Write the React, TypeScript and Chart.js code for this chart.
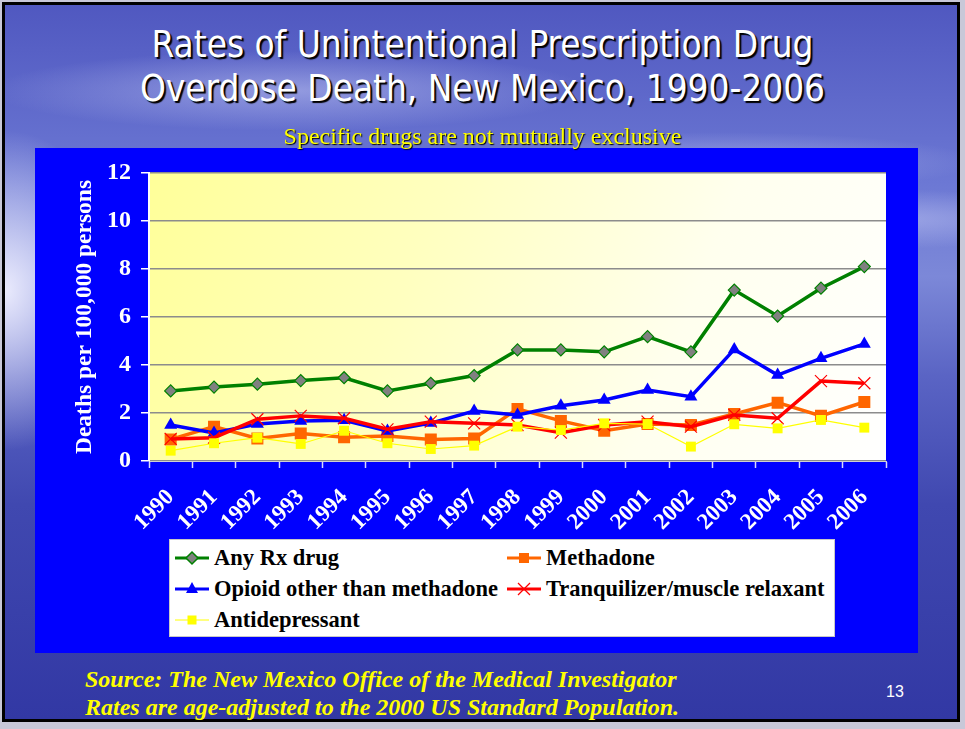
import React, { useEffect, useRef } from "react";
import { Chart, registerables } from "chart.js";

Chart.register(...registerables);

const years = ["1990","1991","1992","1993","1994","1995","1996","1997","1998","1999","2000","2001","2002","2003","2004","2005","2006"];
const anyRx = [2.92, 3.08, 3.2, 3.35, 3.47, 2.92, 3.24, 3.56, 4.63, 4.63, 4.55, 5.18, 4.55, 7.12, 6.04, 7.2, 8.1];
const methadone = [0.9, 1.43, 0.94, 1.15, 0.99, 1.04, 0.9, 0.94, 2.17, 1.67, 1.26, 1.54, 1.5, 1.96, 2.43, 1.88, 2.46];
const opioid = [1.5, 1.17, 1.54, 1.67, 1.7, 1.25, 1.58, 2.08, 1.92, 2.3, 2.54, 2.96, 2.68, 4.65, 3.58, 4.28, 4.88];
const tranq = [0.92, 0.97, 1.74, 1.88, 1.78, 1.32, 1.64, 1.57, 1.5, 1.18, 1.5, 1.64, 1.43, 1.92, 1.78, 3.33, 3.24];
const antidep = [0.43, 0.74, 0.97, 0.71, 1.26, 0.74, 0.5, 0.64, 1.43, 1.29, 1.57, 1.54, 0.6, 1.53, 1.36, 1.71, 1.39];
const yTicks = [0, 2, 4, 6, 8, 10, 12];

const serif = '"Liberation Serif", "Times New Roman", serif';

const plotBg = {
  id: "plotBg",
  beforeDraw(chart: any) {
    const { ctx, chartArea } = chart;
    if (!chartArea) return;
    const { left, top, right, bottom } = chartArea;
    const g = ctx.createLinearGradient(left, top, right, bottom);
    g.addColorStop(0, "#ffff99");
    g.addColorStop(0.35, "#ffffbf");
    g.addColorStop(0.7, "#ffffee");
    g.addColorStop(1, "#ffffff");
    ctx.save();
    ctx.fillStyle = g;
    ctx.fillRect(left, top, right - left, bottom - top);
    ctx.restore();
  },
};

function LegendIcon({ kind }: { kind: string }) {
  const w = 34, h = 16, cy = 8, cx = 17;
  let line = "#000", lw = 3, marker: any = null;
  if (kind === "any") {
    line = "#008000";
    marker = <polygon points={`${cx},${cy - 6} ${cx + 6},${cy} ${cx},${cy + 6} ${cx - 6},${cy}`} fill="#808080" stroke="#008000" strokeWidth={1.5} />;
  } else if (kind === "meth") {
    line = "#ff6600";
    marker = <rect x={cx - 5} y={cy - 5} width={10} height={10} fill="#ff6600" />;
  } else if (kind === "opi") {
    line = "#0000ff";
    marker = <polygon points={`${cx},${cy - 7} ${cx + 6},${cy + 4} ${cx - 6},${cy + 4}`} fill="#0000ff" />;
  } else if (kind === "tranq") {
    line = "#ff0000";
    marker = (
      <g stroke="#ff0000" strokeWidth={1.2}>
        <line x1={cx - 6} y1={cy - 6} x2={cx + 6} y2={cy + 6} />
        <line x1={cx - 6} y1={cy + 6} x2={cx + 6} y2={cy - 6} />
      </g>
    );
  } else {
    line = "#ffff00";
    lw = 1;
    marker = <rect x={cx - 4.5} y={cy - 4.5} width={9} height={9} fill="#ffff00" />;
  }
  return (
    <svg width={w} height={h} style={{ display: "inline-block", verticalAlign: "middle", marginRight: 5 }}>
      <line x1={0} y1={cy} x2={w} y2={cy} stroke={line} strokeWidth={lw} />
      {marker}
    </svg>
  );
}

export default function App() {
  const ref = useRef<HTMLCanvasElement>(null);

  useEffect(() => {
    if (!ref.current) return;
    const chart = new Chart(ref.current, {
      type: "line",
      data: {
        labels: years,
        datasets: [
          {
            label: "Any Rx drug",
            data: anyRx,
            borderColor: "#008000",
            borderWidth: 3.5,
            pointStyle: "rectRot",
            pointRadius: 6,
            pointBackgroundColor: "#808080",
            pointBorderColor: "#008000",
            pointBorderWidth: 1.2,
            order: 5,
          },
          {
            label: "Methadone",
            data: methadone,
            borderColor: "#ff6600",
            borderWidth: 3.5,
            pointStyle: "rect",
            pointRadius: 8.5,
            pointBackgroundColor: "#ff6600",
            pointBorderColor: "#ff6600",
            pointBorderWidth: 0,
            order: 4,
          },
          {
            label: "Opioid other than methadone",
            data: opioid,
            borderColor: "#0000ff",
            borderWidth: 3.5,
            pointStyle: "triangle",
            pointRadius: 7.5,
            pointBackgroundColor: "#0000ff",
            pointBorderColor: "#0000ff",
            pointBorderWidth: 0,
            order: 3,
          },
          {
            label: "Tranquilizer/muscle relaxant",
            data: tranq,
            borderColor: "#ff0000",
            borderWidth: 3.5,
            pointStyle: "crossRot",
            pointRadius: 8.5,
            pointBackgroundColor: "#ff0000",
            pointBorderColor: "#ff0000",
            pointBorderWidth: 1.2,
            order: 2,
          },
          {
            label: "Antidepressant",
            data: antidep,
            borderColor: "#ffff00",
            borderWidth: 1.2,
            pointStyle: "rect",
            pointRadius: 7,
            pointBackgroundColor: "#ffff00",
            pointBorderColor: "#ffff00",
            pointBorderWidth: 0,
            order: 1,
          },
        ],
      },
      options: {
        responsive: false,
        animation: false,
        layout: { padding: { top: 25, right: 32, left: 0, bottom: 0 } },
        plugins: {
          legend: { display: false },
          tooltip: { enabled: false },
          title: { display: false },
        },
        elements: { line: { tension: 0 } },
        scales: {
          x: {
            offset: true,
            grid: {
              display: true,
              drawOnChartArea: false,
              offset: true,
              tickLength: 7,
              tickColor: "#d8d8ff",
              tickWidth: 1.5,
            },
            border: { display: true, color: "#d0d0d0", width: 1 },
            ticks: {
              color: "#ffffff",
              font: { family: serif, size: 23, weight: "bold" },
              minRotation: 45,
              maxRotation: 45,
              autoSkip: false,
              padding: 16,
            },
            afterFit(scale: any) {
              scale.height = 192;
            },
          },
          y: {
            min: 0,
            max: 12,
            afterBuildTicks(scale: any) {
              scale.ticks = yTicks.map((v) => ({ value: v }));
            },
            grid: {
              color: "#8c8c8c",
              lineWidth: 1.5,
              tickColor: "#ffffff",
              tickLength: 8,
              tickWidth: 1.5,
            },
            border: { display: true, color: "#ffffff", width: 2 },
            ticks: {
              color: "#ffffff",
              font: { family: serif, size: 24, weight: "bold" },
              padding: 10,
            },
            title: {
              display: true,
              text: "Deaths per 100,000 persons",
              color: "#ffffff",
              font: { family: serif, size: 23.5, weight: "bold" },
              padding: { top: 36, bottom: 0 },
            },
            afterFit(scale: any) {
              scale.width = 114;
            },
          },
        },
      },
      plugins: [plotBg],
    });
    return () => chart.destroy();
  }, []);

  const titleStyle: React.CSSProperties = {
    position: "absolute",
    left: 0,
    width: 965,
    textAlign: "center",
    color: "#ffffff",
    fontFamily: '"Liberation Sans Narrow", "DejaVu Sans Condensed", "Liberation Sans", sans-serif',
    fontSize: 36.6,
    lineHeight: "44px",
    textShadow: "2px 2px 1px #000000",
    whiteSpace: "nowrap",
  };

  const legendRow: React.CSSProperties = {
    position: "absolute",
    display: "flex",
    alignItems: "center",
    fontFamily: serif,
    fontWeight: "bold",
    fontSize: 22.5,
    lineHeight: "24px",
    color: "#000",
    whiteSpace: "nowrap",
  };

  return (
    <div style={{ position: "fixed", left: 0, top: 0, width: 965, height: 729, background: "#c8c8d8", overflow: "hidden" }}>
      <div
        style={{
          position: "absolute",
          left: 2,
          top: 2,
          width: 952,
          height: 714,
          border: "3px solid #000",
          background:
            "radial-gradient(ellipse 120px 160px at 0% 40%, rgba(240,240,255,0.95), rgba(240,240,255,0) 100%)," +
            "radial-gradient(ellipse 300px 40px at 30% 12%, rgba(200,205,245,0.5), rgba(200,205,245,0) 100%)," +
            "radial-gradient(ellipse 260px 30px at 75% 22%, rgba(200,205,245,0.45), rgba(200,205,245,0) 100%)," +
            "radial-gradient(ellipse 200px 30px at 92% 30%, rgba(200,205,245,0.5), rgba(200,205,245,0) 100%)," +
            "linear-gradient(180deg, #5058c0 0%, #6c78d4 25%, #7c88d8 38%, #5a64c4 52%, #4048b0 70%, #3238a4 100%)",
        }}
      />
      <div style={{ ...titleStyle, top: 23 }}>Rates of Unintentional Prescription Drug</div>
      <div style={{ ...titleStyle, top: 67 }}>Overdose Death, New Mexico, 1990-2006</div>
      <div
        style={{
          position: "absolute",
          left: 0,
          width: 965,
          top: 123,
          textAlign: "center",
          color: "#ffff00",
          fontFamily: serif,
          fontSize: 24,
          lineHeight: "26px",
          textShadow: "1px 1px 1px #000",
          whiteSpace: "nowrap",
          zIndex: 2,
        }}
      >
        Specific drugs are not mutually exclusive
      </div>
      <div style={{ position: "absolute", left: 35, top: 148, width: 883, height: 505, background: "#0000ff" }}>
        <canvas ref={ref} width={883} height={505} style={{ display: "block" }} />
      </div>
      <div
        style={{
          position: "absolute",
          left: 169,
          top: 539,
          width: 666,
          height: 98,
          background: "#ffffff",
          border: "1px solid #c8c8c8",
          boxSizing: "border-box",
        }}
      />
      <div style={{ ...legendRow, left: 175, top: 546 }}><LegendIcon kind="any" />Any Rx drug</div>
      <div style={{ ...legendRow, left: 507, top: 546 }}><LegendIcon kind="meth" />Methadone</div>
      <div style={{ ...legendRow, left: 175, top: 577 }}><LegendIcon kind="opi" />Opioid other than methadone</div>
      <div style={{ ...legendRow, left: 507, top: 577 }}><LegendIcon kind="tranq" />Tranquilizer/muscle relaxant</div>
      <div style={{ ...legendRow, left: 175, top: 608 }}><LegendIcon kind="anti" />Antidepressant</div>
      <div
        style={{
          position: "absolute",
          left: 85,
          top: 665,
          color: "#ffff00",
          fontFamily: serif,
          fontWeight: "bold",
          fontStyle: "italic",
          fontSize: 24,
          lineHeight: "28px",
          whiteSpace: "nowrap",
        }}
      >
        <div>Source: The New Mexico Office of the Medical Investigator</div>
        <div>Rates are age-adjusted to the 2000 US Standard Population.</div>
      </div>
      <div
        style={{
          position: "absolute",
          left: 886,
          top: 683,
          color: "#ffffff",
          fontFamily: '"Liberation Sans", sans-serif',
          fontSize: 16,
        }}
      >
        13
      </div>
    </div>
  );
}
